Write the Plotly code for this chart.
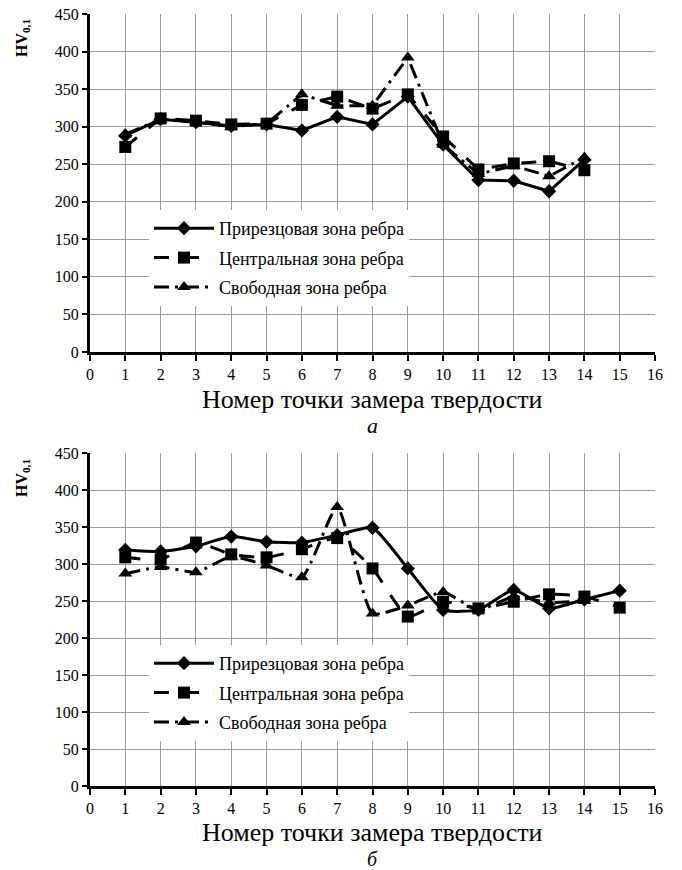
import plotly.graph_objects as go

# Chart a
x_a = list(range(1, 15))
a_s1 = [288, 310, 306, 301, 303, 295, 313, 303, 340, 276, 229, 228, 214, 256]
a_s2 = [273, 311, 308, 303, 304, 329, 340, 324, 343, 287, 243, 251, 254, 242]
a_s3 = [290, 310, 306, 300, 304, 343, 328, 328, 392, 276, 237, 248, 234, 259]

# Chart b
x_b = list(range(1, 16))
b_s1 = [319, 317, 324, 337, 330, 329, 339, 349, 294, 238, 238, 265, 240, 252, 264]
b_s2 = [309, 306, 329, 313, 309, 320, 335, 294, 229, 249, 240, 249, 259, 256, 241]
x_b3 = list(range(1, 15))
b_s3 = [287, 296, 289, 310, 298, 282, 377, 233, 244, 262, 238, 256, 248, 250]

names = ["Прирезцовая зона ребра", "Центральная зона ребра", "Свободная зона ребра"]
x_ticks = list(range(0, 17))
y_ticks = list(range(0, 451, 50))

FONT = "Liberation Serif, Times New Roman, serif"
styles = [
    dict(dash="solid", symbol="diamond", size=11),
    dict(dash="longdash", symbol="square", size=12),
    dict(dash="longdashdot", symbol="triangle-up", size=12),
]

fig = go.Figure()

def add(x, y, i, xa, ya, legend, shape):
    st = styles[i]
    fig.add_trace(go.Scatter(
        x=x, y=y, name=names[i], mode="lines+markers",
        line=dict(color="black", width=3, dash=st["dash"], shape=shape, smoothing=0.5),
        marker=dict(symbol=st["symbol"], size=st["size"], color="black"),
        xaxis=xa, yaxis=ya, legend=legend, legendgroup=legend + str(i),
    ))

add(x_a, a_s1, 0, "x", "y", "legend", "linear")
add(x_a, a_s2, 1, "x", "y", "legend", "linear")
add(x_a, a_s3, 2, "x", "y", "legend", "linear")
add(x_b, b_s1, 0, "x2", "y2", "legend2", "spline")
add(x_b, b_s2, 1, "x2", "y2", "legend2", "spline")
add(x_b3, b_s3, 2, "x2", "y2", "legend2", "spline")

H, T, B = 870, 14, 84
PH = H - T - B
def py(pix):
    return (H - B - pix) / PH
def px(pix):
    return (pix - 90) / 565

xaxis_common = dict(
    range=[0, 16], tickvals=x_ticks, showgrid=True, gridcolor="#9a9a9a", gridwidth=1,
    showline=True, linecolor="black", linewidth=3, ticks="outside", ticklen=6,
    tickwidth=2, tickcolor="black", zeroline=False, automargin=False,
    tickfont=dict(family=FONT, size=16, color="black"),
)
yaxis_common = dict(
    range=[0, 450], tickvals=y_ticks, showgrid=True, gridcolor="#9a9a9a", gridwidth=1,
    showline=True, linecolor="black", linewidth=3, ticks="outside", ticklen=5,
    tickwidth=2, tickcolor="black", zeroline=False, automargin=False,
    tickfont=dict(family=FONT, size=16, color="black"),
)

legend_common = dict(
    bgcolor="white", borderwidth=0, font=dict(family=FONT, size=18, color="black"),
    itemwidth=60, traceorder="grouped", tracegroupgap=3, xanchor="left", yanchor="top",
)

fig.update_layout(
    width=682, height=H,
    margin=dict(l=90, r=27, t=T, b=B, autoexpand=False),
    font=dict(family=FONT, color="black"),
    plot_bgcolor="white", paper_bgcolor="white",
    xaxis=dict(domain=[0, 1], anchor="y", **xaxis_common),
    yaxis=dict(domain=[py(352), 1], anchor="x", **yaxis_common),
    xaxis2=dict(domain=[0, 1], anchor="y2", **xaxis_common),
    yaxis2=dict(domain=[0, py(453)], anchor="x2", **yaxis_common),
    legend=dict(x=px(149), y=py(210), **legend_common),
    legend2=dict(x=px(149), y=py(645), **legend_common),
    showlegend=True,
)

annots = [
    dict(text="<b>HV<sub>0,1</sub></b>", x=px(22), y=py(38), textangle=-90, font=dict(size=16)),
    dict(text="<b>HV<sub>0,1</sub></b>", x=px(22), y=py(478), textangle=-90, font=dict(size=16)),
    dict(text="Номер точки замера твердости", x=0.5, y=py(399), font=dict(size=26)),
    dict(text="<i>а</i>", x=0.5, y=py(425), font=dict(size=22)),
    dict(text="Номер точки замера твердости", x=0.5, y=py(832), font=dict(size=26)),
    dict(text="<i>б</i>", x=0.5, y=py(859), font=dict(size=20)),
]
for a in annots:
    f = dict(family=FONT, color="black")
    f.update(a.pop("font"))
    fig.add_annotation(xref="paper", yref="paper", showarrow=False,
                       xanchor="center", yanchor="middle", font=f, **a)

fig.write_html("out.html", config={"displayModeBar": False},
               post_script="document.body.style.margin='0';")
